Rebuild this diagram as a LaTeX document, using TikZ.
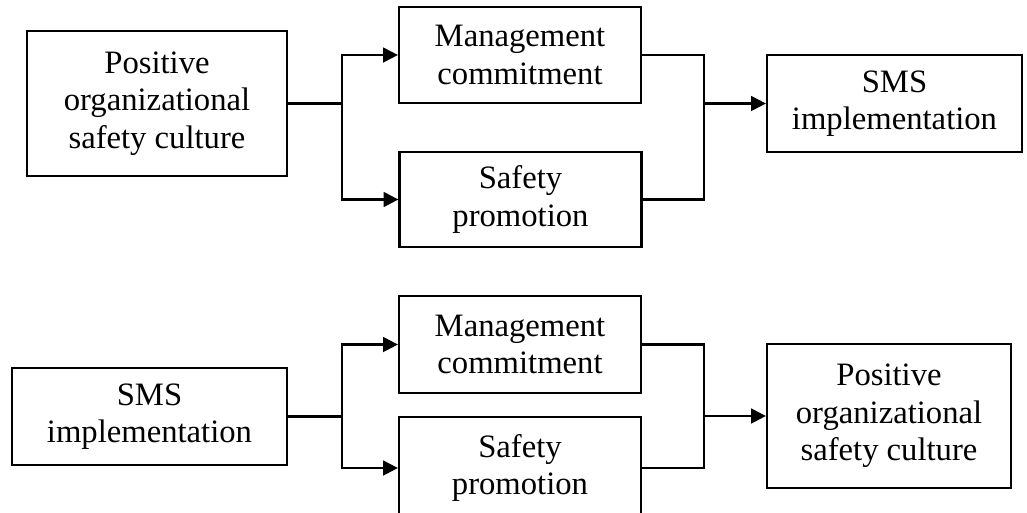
\documentclass[tikz,border=0pt]{standalone}
\usepackage{fontspec}
\setmainfont{Liberation Serif}
\usetikzlibrary{arrows.meta}

\tikzset{
    block/.style={draw, line width=1.7pt, inner sep=0pt, align=center,
        font=\fontsize{24.5}{28}\selectfont},
    link/.style={line width=1.7pt},
    flow/.style={link, -{Triangle[length=11pt,width=11pt]}}
}

\begin{document}
\begin{tikzpicture}[x=0.75pt, y=-0.75pt]
    \useasboundingbox (0,0) rectangle (1027,512);

    % Upper chain
    \node[block, minimum width=195pt, minimum height=108.75pt] (culture) at (157,103.5)
        {Positive\\organizational\\safety culture};
    \node[block, minimum width=181.5pt, minimum height=72pt] (commit) at (520,55)
        {Management\\commitment};
    \node[block, minimum width=181.5pt, minimum height=71.25pt] (promo) at (520.5,199.5)
        {Safety\\promotion};
    \node[block, minimum width=191.25pt, minimum height=72.75pt] (sms) at (894.5,103.5)
        {SMS\\implementation};

    \coordinate (split) at (342,103.5);
    \coordinate (join) at (704,103.5);
    \draw[link] (culture.east) -- (split);
    \draw[flow] (split) |- (commit.west);
    \draw[flow] (split) |- (promo.west);
    \draw[link] (commit.east) -| (join);
    \draw[link] (promo.east) -| (join);
    \draw[flow] (join) -- (sms.west);

    % Lower chain
    \node[block, minimum width=206.25pt, minimum height=72.75pt] (smsB) at (149.5,416.5)
        {SMS\\implementation};
    \node[block, minimum width=181.5pt, minimum height=72.75pt] (commitB) at (520,344.5)
        {Management\\commitment};
    \node[block, minimum width=181.5pt, minimum height=76.5pt] (promoB) at (520,468)
        {Safety\\promotion};
    \node[block, minimum width=183pt, minimum height=108pt] (cultureB) at (889,416)
        {Positive\\organizational\\safety culture};

    \coordinate (splitB) at (342,416.5);
    \coordinate (joinB) at (704,416);
    \draw[link] (smsB.east) -- (splitB);
    \draw[flow] (splitB) |- (commitB.west);
    \draw[flow] (splitB) |- (promoB.west);
    \draw[link] (commitB.east) -| (joinB);
    \draw[link] (promoB.east) -| (joinB);
    \draw[flow] (joinB) -- (cultureB.west);
\end{tikzpicture}
\end{document}
